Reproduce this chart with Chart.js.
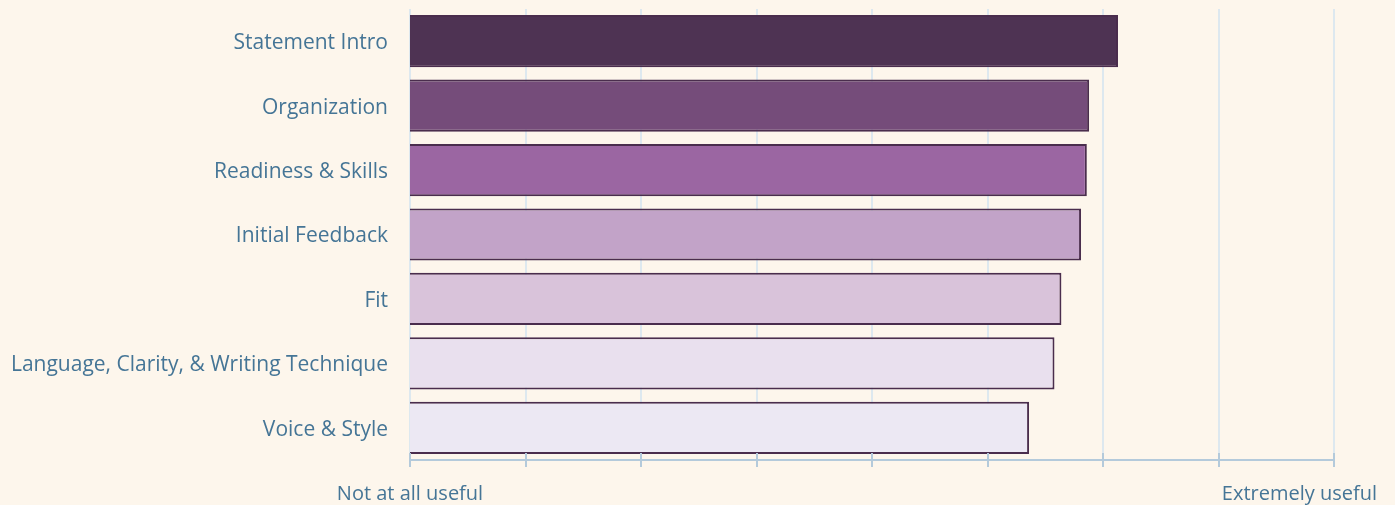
<!DOCTYPE html>
<html>
<head>
<meta charset="utf-8">
<script src="https://cdn.jsdelivr.net/npm/chart.js@4"></script>
<style>
  html, body { margin: 0; padding: 0; background: #fdf6ec; }
  #wrap { width: 1395px; height: 505px; }
</style>
</head>
<body>
<div id="wrap"><canvas id="usefulChart"></canvas></div>
<script>
const categories = [
    'Statement Intro',
    'Organization',
    'Readiness & Skills',
    'Initial Feedback',
    'Fit',
    'Language, Clarity, & Writing Technique',
    'Voice & Style'
];
const ratings = [4.065, 3.94, 3.93, 3.905, 3.82, 3.79, 3.68];
const barColors = ['#4e3353', '#754c7a', '#9b66a2', '#c2a3c8', '#d9c3da', '#e9e0ee', '#ece8f3'];
const scaleMin = 1;
const scaleMax = 5;
const scaleStep = 0.5;
const endLabels = ['Not at all useful', 'Extremely useful'];

const textColor = '#457596';
const axisColor = '#b4cadb';
const gridColor = '#dde8ef';
const fontFamily = "'Open Sans', sans-serif";

// draws the crossing tick marks and the two end labels of the x axis
const endLabelPlugin = {
    id: 'endLabels',
    afterDraw(chart) {
        const ctx = chart.ctx;
        const x = chart.scales.x;
        const bottom = chart.chartArea.bottom;
        ctx.save();
        ctx.strokeStyle = axisColor;
        ctx.lineWidth = 2;
        x.ticks.forEach(t => {
            const px = Math.round(x.getPixelForValue(t.value));
            ctx.beginPath();
            ctx.moveTo(px, bottom - 7);
            ctx.lineTo(px, bottom + 7);
            ctx.stroke();
        });
        ctx.font = '20px ' + fontFamily;
        ctx.fillStyle = textColor;
        ctx.textBaseline = 'middle';
        ctx.textAlign = 'left';
        [scaleMin, scaleMax].forEach((v, i) => {
            const w = ctx.measureText(endLabels[i]).width;
            let left = x.getPixelForValue(v) - w / 2;
            left = Math.max(4, Math.min(chart.width - w - 18, left));
            ctx.fillText(endLabels[i], left, bottom + 34);
        });
        ctx.restore();
    }
};

const ctx = document.getElementById('usefulChart').getContext('2d');
new Chart(ctx, {
    type: 'bar',
    data: {
        labels: categories,
        datasets: [{
            data: ratings,
            backgroundColor: barColors,
            borderColor: '#4a2d4d',
            borderWidth: 2,
            borderSkipped: false,
            categoryPercentage: 1,
            barPercentage: 0.81
        }]
    },
    options: {
        indexAxis: 'y',
        responsive: true,
        maintainAspectRatio: false,
        animation: false,
        layout: { padding: { top: 9, right: 61, bottom: 0, left: 0 } },
        plugins: {
            legend: { display: false },
            tooltip: { enabled: false }
        },
        scales: {
            x: {
                min: scaleMin,
                max: scaleMax,
                ticks: { stepSize: scaleStep, display: false },
                grid: { color: gridColor, lineWidth: 2, drawTicks: false },
                border: { color: axisColor, width: 2 },
                afterFit: s => { s.height = 45; s.paddingLeft = 0; s.paddingRight = 0; }
            },
            y: {
                grid: { display: false, drawTicks: false },
                border: { display: false },
                ticks: {
                    color: textColor,
                    padding: 22,
                    labelOffset: 2,
                    font: { family: fontFamily, size: 21 }
                },
                afterFit: s => { s.width = 410; s.paddingTop = 0; s.paddingBottom = 0; }
            }
        }
    },
    plugins: [endLabelPlugin]
});
</script>
</body>
</html>
